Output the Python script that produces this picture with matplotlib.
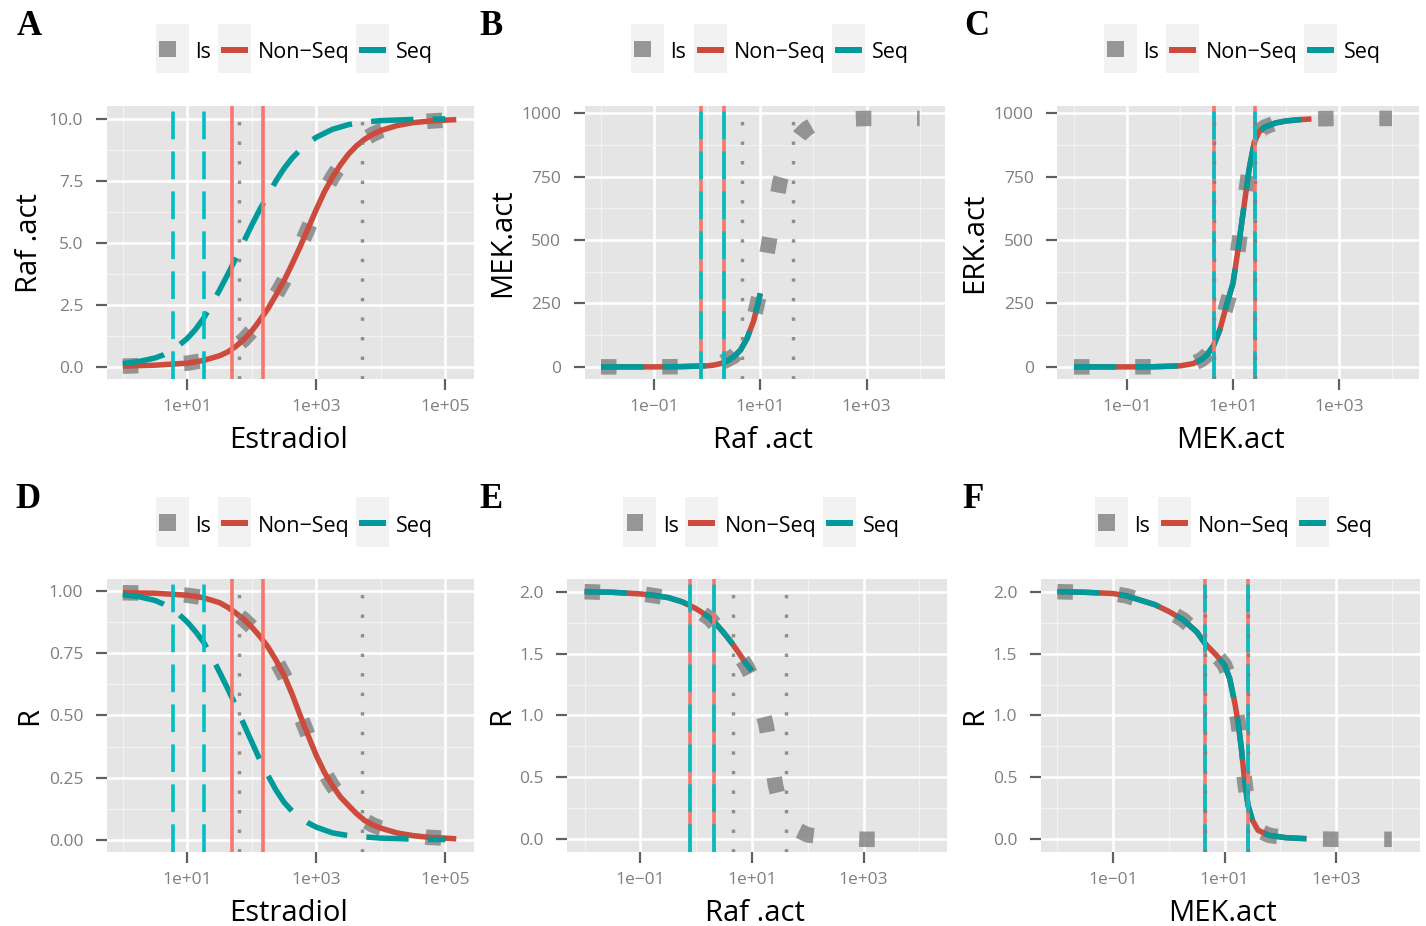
import numpy as np
import matplotlib
matplotlib.use('Agg')
import matplotlib.pyplot as plt
from matplotlib.patches import Rectangle
from matplotlib.ticker import NullFormatter

plt.rcParams['font.family'] = ['Open Sans', 'DejaVu Sans']

W, H = 1426, 926
PT = 0.72  # points per pixel at dpi 100

# ---------------- colours ----------------
C_NONSEQ = '#CC4B3C'
C_SEQ = '#009A9A'
C_VL_NONSEQ = '#F8766D'
C_VL_SEQ = '#00BFC4'
C_LS = '#7F7F7F'

# ---------------- data ----------------
# Panel A: Raf.act vs Estradiol
a_nonseq_x = [1, 3.16, 10, 17.8, 31.6, 42.2, 56.2, 75, 100, 133, 178, 237, 316, 422, 562, 750,
              1000, 1330, 1780, 2370, 3160, 4220, 5620, 7500, 10000, 17800, 31600, 56200, 100000, 148000]
a_nonseq_y = [0.03, 0.07, 0.15, 0.26, 0.45, 0.6, 0.82, 1.1, 1.45, 1.88, 2.35, 2.9, 3.48, 4.15, 4.85, 5.6,
              6.35, 7.05, 7.65, 8.15, 8.58, 8.92, 9.18, 9.38, 9.53, 9.73, 9.85, 9.91, 9.95, 9.97]
a_seq_x = [1, 1.78, 3.16, 4.22, 5.62, 7.5, 10, 13.3, 17.8, 23.7, 31.6, 42.2, 56.2, 75, 100, 133, 178, 237,
           316, 422, 562, 750, 1000, 1780, 3160, 5620, 10000, 31600, 100000]
a_seq_y = [0.13, 0.22, 0.36, 0.48, 0.65, 0.88, 1.15, 1.5, 1.95, 2.5, 3.1, 3.72, 4.37, 5.05, 5.72, 6.35, 6.93,
           7.5, 8.0, 8.42, 8.75, 9.03, 9.26, 9.58, 9.77, 9.87, 9.93, 9.98, 10.0]
a_ls_x = list(a_nonseq_x)
a_ls_y = list(a_nonseq_y)

# Panel D: R vs Estradiol
d_nonseq_x = list(a_nonseq_x)
d_nonseq_y = [0.993, 0.991, 0.983, 0.973, 0.953, 0.935, 0.912, 0.886, 0.855, 0.818, 0.775, 0.722, 0.661,
              0.585, 0.5, 0.418, 0.339, 0.272, 0.218, 0.172, 0.138, 0.105, 0.078, 0.06, 0.047, 0.028,
              0.017, 0.01, 0.007, 0.004]
d_seq_x = [1, 1.78, 3.16, 4.22, 5.62, 7.5, 10, 13.3, 17.8, 23.7, 31.6, 42.2, 56.2, 75, 100, 133, 178, 237,
           316, 422, 562, 750, 1000, 1780, 3160, 10000, 31600, 100000]
d_seq_y = [0.985, 0.977, 0.962, 0.948, 0.929, 0.905, 0.875, 0.838, 0.795, 0.738, 0.674, 0.608, 0.54, 0.465,
           0.393, 0.322, 0.259, 0.2, 0.151, 0.115, 0.091, 0.068, 0.051, 0.028, 0.017, 0.007, 0.003, 0.001]
d_ls_x = list(d_nonseq_x)
d_ls_y = list(d_nonseq_y)

# Panel B: MEK.act vs Raf.act
b_curve_x = [0.01, 0.0316, 0.1, 0.316, 1, 1.33, 1.78, 2.37, 3.16, 4.22, 5.62, 7.5, 8.91, 10]
b_nonseq_y = [0, 0, 0, 1, 4, 7, 13, 23, 40, 66, 112, 182, 245, 290]
b_seq_y = [0, 0, 0, 1, 4, 7, 13, 23, 40, 66, 112, 182, 245, 290]
b_ls_x = [0.01, 0.1, 0.316, 1, 1.78, 3.16, 4.22, 5.62, 7.5, 10, 13.3, 17.8, 23.7, 31.6, 42.2, 56.2, 75,
          100, 178, 316, 1000, 3160, 10000]
b_ls_y = [0, 0, 1, 5, 14, 42, 72, 120, 190, 300, 445, 595, 735, 825, 880, 915, 940, 955, 970, 976, 980,
          980, 980]

# Panel C: ERK.act vs MEK.act
c_curve_x = [0.01, 0.1, 0.316, 1, 1.78, 2.51, 3.16, 4.32, 5.62, 7.71, 10, 12.6, 15.8, 20, 25.1, 31.6,
             39.8, 63.1, 100, 178, 302]
c_nonseq_y = [0, 0, 0.5, 4, 13, 28, 45, 85, 145, 250, 330, 470, 620, 776, 885, 930, 946, 962, 970, 975, 978]
c_seq_y = [0, 0, 0.5, 4, 13, 28, 45, 85, 145, 250, 330, 470, 620, 776, 885, 930, 946, 962, 970, 975, 978]
c_ls_x = c_curve_x + [1000, 3160, 10000]
c_ls_y = c_nonseq_y + [980, 980, 980]

# Panel E: R vs Raf.act
e_curve_x = [0.01, 0.0316, 0.1, 0.178, 0.316, 0.562, 1, 1.33, 1.78, 2.37, 3.16, 4.22, 5.62, 7.5, 10]
e_nonseq_y = [2.0, 1.995, 1.982, 1.97, 1.952, 1.918, 1.862, 1.826, 1.785, 1.73, 1.665, 1.594, 1.515, 1.43, 1.36]
e_seq_y = [2.0, 1.995, 1.982, 1.97, 1.952, 1.918, 1.862, 1.826, 1.785, 1.73, 1.665, 1.594, 1.515, 1.43, 1.36]
e_ls_x = [0.01, 0.1, 0.316, 1, 1.78, 3.16, 5.62, 7.94, 10, 12.6, 15.8, 17.8, 20, 22.4, 26.3, 31.6, 39.8,
          56.2, 100, 316, 1000, 10000]
e_ls_y = [2.0, 1.985, 1.95, 1.86, 1.78, 1.65, 1.5, 1.40, 1.31, 1.17, 1.02, 0.93, 0.80, 0.66, 0.44, 0.29,
          0.18, 0.09, 0.035, 0.008, 0.0, 0.0]

# Panel F: R vs MEK.act
f_curve_x = [0.01, 0.0316, 0.1, 0.178, 0.316, 0.562, 1, 1.78, 3.16, 4.47, 7.08, 10, 12.3, 15.1, 17.4, 20,
             22.9, 26.3, 31.6, 39.8, 63.1, 126, 295]
f_nonseq_y = [2.0, 1.995, 1.985, 1.965, 1.93, 1.895, 1.84, 1.775, 1.675, 1.58, 1.488, 1.407, 1.30, 1.11,
              0.95, 0.733, 0.47, 0.275, 0.154, 0.073, 0.032, 0.013, 0.005]
f_seq_y = list(f_nonseq_y)
f_ls_x = f_curve_x + [1000, 10000]
f_ls_y = f_nonseq_y + [0.0, 0.0]

# vertical reference lines
a_vl_nonseq, a_vl_seq, a_vl_ls = [49, 148], [5.9, 18.4], [64, 5160]
b_vl_nonseq, b_vl_seq, b_vl_ls = [0.77, 2.05], [0.77, 2.05], [4.6, 41]
c_vl_nonseq, c_vl_seq, c_vl_ls = [4.3, 26], [4.3, 26], [4.3, 26]
f_vl_nonseq, f_vl_seq, f_vl_ls = [4.5, 26], [4.5, 26], [4.5, 26]

legend_labels = ['ls', 'Non\u2212Seq', 'Seq']

# ---------------- figure ----------------
fig = plt.figure(figsize=(W / 100, H / 100), dpi=100)


def ftext(x, y, s, **kw):
    fig.text(x / W, 1 - y / H, s, **kw)


def frect(x, y, w, h, **kw):
    fig.add_artist(Rectangle((x / W, 1 - (y + h) / H), w / W, h / H,
                             transform=fig.transFigure, **kw))


def draw_panel(box, xlim_e, ylim, xt_e, xtl, yt, ytl, ls, ns, sq, vls, letter, letter_x,
               xlabel, xlabel_x, ylabel, ylabel_x, keys_x, row):
    l, t, r, b = box
    ax = fig.add_axes([l / W, 1 - b / H, (r - l) / W, (b - t) / H])
    ax.set_facecolor('#E5E5E5')
    for s in ax.spines.values():
        s.set_visible(False)
    ax.set_xscale('log')
    ax.set_xticks([10.0 ** e for e in xt_e])
    ax.set_xticklabels(xtl)
    minor_e = [e for e in [xt_e[0] - 1] + [e + 1 for e in xt_e] if xlim_e[0] < e < xlim_e[1]]
    ax.set_xticks([10.0 ** e for e in minor_e], minor=True)
    ax.xaxis.set_minor_formatter(NullFormatter())
    ax.set_yticks(yt)
    ax.set_yticklabels(ytl)
    ax.set_yticks([(yt[i] + yt[i + 1]) / 2 for i in range(len(yt) - 1)], minor=True)
    ax.tick_params(which='minor', length=0)
    ax.tick_params(which='major', length=11 * PT, width=2.2 * PT, color='#606060',
                   labelcolor='#7F7F7F', labelsize=12.5, direction='out')
    ax.tick_params(axis='x', pad=6.5)
    ax.tick_params(axis='y', pad=9)
    ax.grid(which='major', color='white', lw=2.6 * PT)
    ax.grid(which='minor', color='#F2F2F2', lw=1.3 * PT)
    ax.set_axisbelow(True)

    ax.plot(ls[0], ls[1], color=C_LS, alpha=0.8, lw=15.5 * PT, linestyle=(0, (1, 2.95)),
            dash_capstyle='butt', zorder=2)
    ax.plot(ns[0], ns[1], color=C_NONSEQ, lw=5.5 * PT, solid_capstyle='butt',
            solid_joinstyle='round', zorder=3)
    ax.plot(sq[0], sq[1], color=C_SEQ, lw=5.5 * PT, linestyle=(0, (7.7, 3.5)),
            dash_capstyle='butt', dash_joinstyle='round', zorder=4)
    for v in vls[0]:
        ax.axvline(v, color=C_VL_NONSEQ, lw=3.6 * PT, zorder=5)
    for v in vls[1]:
        ax.axvline(v, color=C_VL_SEQ, lw=3.6 * PT, linestyle=(0, (7.7, 3.4)),
                   dash_capstyle='butt', zorder=6)
    for v in vls[2]:
        ax.axvline(v, color=C_LS, alpha=0.85, lw=3.4 * PT, linestyle=(0, (1, 4.75)),
                   dash_capstyle='butt', zorder=7)
    ax.set_xlim(10 ** xlim_e[0], 10 ** xlim_e[1])
    ax.set_ylim(*ylim)

    dy = 0 if row == 0 else 473.3
    # panel letter
    ftext(letter_x, 35 + dy, letter, fontfamily='Liberation Serif', fontweight='bold',
          fontsize=25, ha='left', va='baseline')
    # axis titles
    ftext(xlabel_x, 448 + dy, xlabel, fontsize=21, ha='center', va='baseline')
    fig.text(ylabel_x / W, 1 - ((t + b) / 2) / H, ylabel, fontsize=21, rotation=90,
             rotation_mode='anchor', ha='center', va='baseline')
    # legend
    ky = 24 + dy
    kh = 49.3
    for i, kx in enumerate(keys_x):
        frect(kx, ky, 33, kh, facecolor='#F2F2F2', edgecolor='none')
        if i == 0:
            frect(kx + 3.3, ky + 16.8, 16.5, 16.5, facecolor=C_LS, alpha=0.8, edgecolor='none')
        else:
            col = C_NONSEQ if i == 1 else C_SEQ
            frect(kx + 2.7, ky + 22.7, 27.6, 6, facecolor=col, edgecolor='none')
        ftext(kx + 39.5, 58.3 + dy, legend_labels[i], fontsize=15.5, ha='left', va='baseline')
    return ax


xt_hi = [1, 3, 5]
xtl_hi = ['1e+01', '1e+03', '1e+05']
xt_lo = [-1, 1, 3]
xtl_lo = ['1e\u221201', '1e+01', '1e+03']

draw_panel((106.7, 106, 474, 379.3), (-0.25, 5.445), (-0.5, 10.52), xt_hi, xtl_hi,
           [0, 2.5, 5, 7.5, 10], ['0.0', '2.5', '5.0', '7.5', '10.0'],
           (a_ls_x, a_ls_y), (a_nonseq_x, a_nonseq_y), (a_seq_x, a_seq_y),
           (a_vl_nonseq, a_vl_seq, a_vl_ls), 'A', 17, 'Estradiol', 289, 'Raf .act', 37,
           [156, 218, 356], 0)
draw_panel((584.7, 106, 945, 379.3), (-2.307, 4.478), (-49, 1029), xt_lo, xtl_lo,
           [0, 250, 500, 750, 1000], ['0', '250', '500', '750', '1000'],
           (b_ls_x, b_ls_y), (b_curve_x, b_nonseq_y), (b_curve_x, b_seq_y),
           (b_vl_nonseq, b_vl_seq, b_vl_ls), 'B', 479, 'Raf .act', 763, 'MEK.act', 510,
           [631, 694, 832], 0)
draw_panel((1057.3, 106, 1419.3, 379.3), (-2.315, 4.515), (-49, 1029), xt_lo, xtl_lo,
           [0, 250, 500, 750, 1000], ['0', '250', '500', '750', '1000'],
           (c_ls_x, c_ls_y), (c_curve_x, c_nonseq_y), (c_curve_x, c_seq_y),
           (c_vl_nonseq, c_vl_seq, c_vl_ls), 'C', 964, 'MEK.act', 1230, 'ERK.act', 982,
           [1104, 1166, 1304], 0)
draw_panel((106.7, 579.3, 474, 852.3), (-0.25, 5.445), (-0.05, 1.047), xt_hi, xtl_hi,
           [0, 0.25, 0.5, 0.75, 1.0], ['0.00', '0.25', '0.50', '0.75', '1.00'],
           (d_ls_x, d_ls_y), (d_nonseq_x, d_nonseq_y), (d_seq_x, d_seq_y),
           (a_vl_nonseq, a_vl_seq, a_vl_ls), 'D', 15, 'Estradiol', 289, 'R', 37,
           [156, 218, 356], 1)
draw_panel((567.3, 579.3, 946.7, 852.3), (-2.31, 4.49), (-0.105, 2.1), xt_lo, xtl_lo,
           [0, 0.5, 1.0, 1.5, 2.0], ['0.0', '0.5', '1.0', '1.5', '2.0'],
           (e_ls_x, e_ls_y), (e_curve_x, e_nonseq_y), (e_curve_x, e_seq_y),
           (b_vl_nonseq, b_vl_seq, b_vl_ls), 'E', 479, 'Raf .act', 755, 'R', 509,
           [623.3, 685, 823], 1)
draw_panel((1040.7, 579.3, 1420, 852.3), (-2.30, 4.506), (-0.105, 2.1), xt_lo, xtl_lo,
           [0, 0.5, 1.0, 1.5, 2.0], ['0.0', '0.5', '1.0', '1.5', '2.0'],
           (f_ls_x, f_ls_y), (f_curve_x, f_nonseq_y), (f_curve_x, f_seq_y),
           (f_vl_nonseq, f_vl_seq, f_vl_ls), 'F', 962, 'MEK.act', 1222, 'R', 982,
           [1095, 1158, 1296], 1)

fig.savefig('out.png', dpi=100)
